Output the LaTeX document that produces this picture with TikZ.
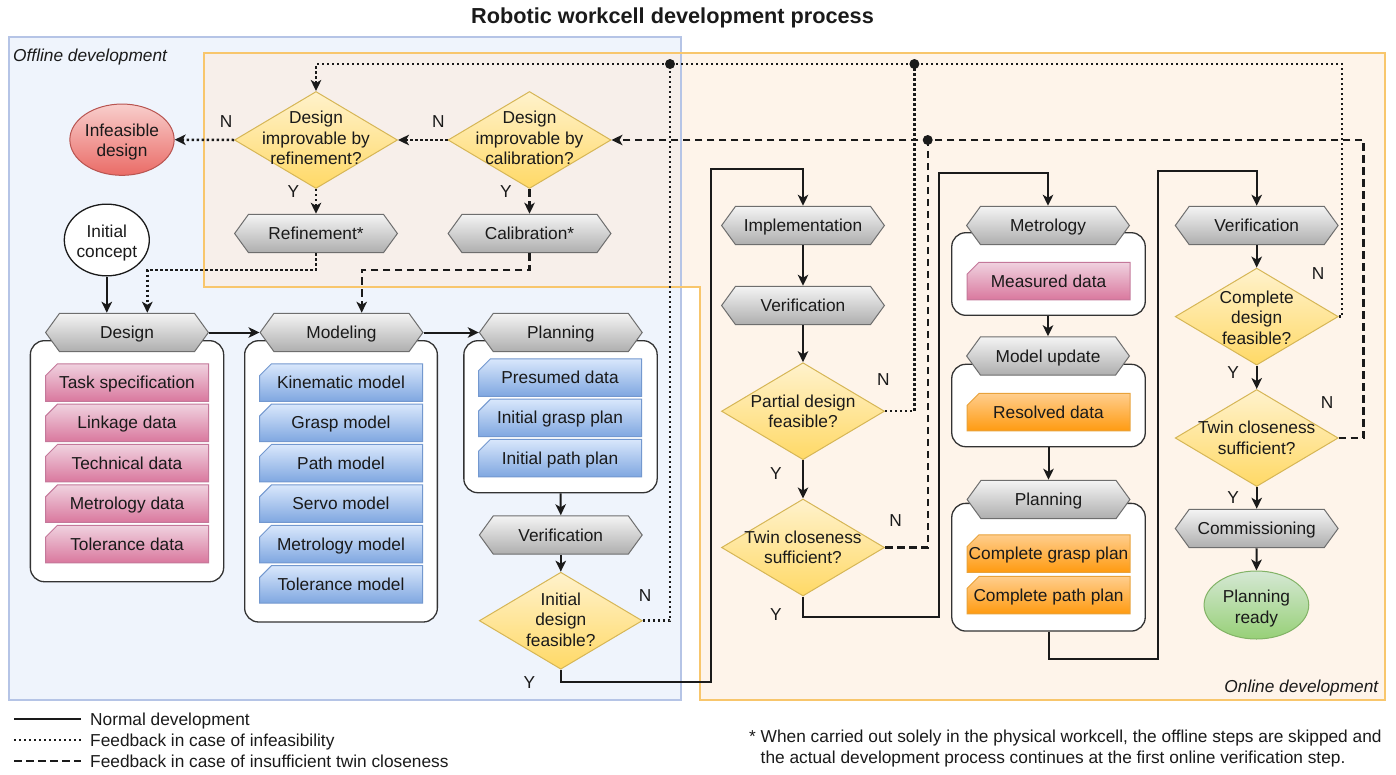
\documentclass[tikz,border=0pt]{standalone}
\usepackage{fontspec}
\setmainfont{Liberation Sans}
\usetikzlibrary{shapes.geometric,arrows.meta}

% palette
\definecolor{ink}{HTML}{1A1A1A}
\definecolor{offfill}{HTML}{EFF4FC}
\definecolor{offedge}{HTML}{B5C4E6}
\definecolor{onfill}{HTML}{FEF4EA}
\definecolor{onedge}{HTML}{F8C66C}
\definecolor{bothfill}{HTML}{F7EFEA}
\definecolor{hexT}{HTML}{F5F5F5}
\definecolor{hexB}{HTML}{ADADAD}
\definecolor{hexD}{HTML}{6E6E6E}
\definecolor{decT}{HTML}{FFF2CC}
\definecolor{decB}{HTML}{FFD966}
\definecolor{decD}{HTML}{D6B656}
\definecolor{pinkT}{HTML}{F0D3E0}
\definecolor{pinkB}{HTML}{D9779D}
\definecolor{pinkD}{HTML}{C4789A}
\definecolor{blueT}{HTML}{DAE8FC}
\definecolor{blueB}{HTML}{7EA6E0}
\definecolor{blueD}{HTML}{7398CF}
\definecolor{oraT}{HTML}{FFCE8E}
\definecolor{oraB}{HTML}{FF9A0F}
\definecolor{oraD}{HTML}{E8A23A}
\definecolor{redT}{HTML}{F8CECC}
\definecolor{redB}{HTML}{EA6B66}
\definecolor{redD}{HTML}{B85450}
\definecolor{grnT}{HTML}{D5E8D4}
\definecolor{grnB}{HTML}{97D077}
\definecolor{grnD}{HTML}{82B366}
\definecolor{grpD}{HTML}{333333}

% hexagonal process outline, drawn inside the node's box
\newcommand{\hexpath}{%
  \path[top color=hexT, bottom color=hexB, draw=hexD, line width=1pt]
    ([xshift=0.6pt]path picture bounding box.west)
    -- ([shift={(14.5pt,-0.6pt)}]path picture bounding box.north west)
    -- ([shift={(-14.5pt,-0.6pt)}]path picture bounding box.north east)
    -- ([xshift=-0.6pt]path picture bounding box.east)
    -- ([shift={(-14.5pt,0.6pt)}]path picture bounding box.south east)
    -- ([shift={(14.5pt,0.6pt)}]path picture bounding box.south west)
    -- cycle;}

% data card with a cut top-left corner
\newcommand{\cardpath}[3]{%
  \path[top color=#1, bottom color=#2, draw=#3, line width=1pt]
    ([shift={(0.5pt,0.5pt)}]path picture bounding box.south west)
    -- ([shift={(0.5pt,-12.5pt)}]path picture bounding box.north west)
    -- ([shift={(12.5pt,-0.5pt)}]path picture bounding box.north west)
    -- ([shift={(-0.5pt,-0.5pt)}]path picture bounding box.north east)
    -- ([shift={(-0.5pt,0.5pt)}]path picture bounding box.south east)
    -- cycle;}

\begin{document}
\begin{tikzpicture}[x=1pt,y=-1pt,
  font=\fontsize{17.3}{20.5}\selectfont, text=ink,
  oneline/.style={text height=15.6pt, text depth=3.6pt},
  stepbox/.style={rectangle, minimum width=164pt, minimum height=39.5pt,
    inner sep=0pt, outer sep=0pt, oneline, path picture={\hexpath}},
  cardbase/.style={rectangle, minimum width=164pt, minimum height=38.5pt,
    inner sep=0pt, outer sep=0pt, oneline},
  pinkcard/.style={cardbase, path picture={\cardpath{pinkT}{pinkB}{pinkD}}},
  bluecard/.style={cardbase, path picture={\cardpath{blueT}{blueB}{blueD}}},
  oracard/.style={cardbase, path picture={\cardpath{oraT}{oraB}{oraD}}},
  grp/.style={rectangle, rounded corners=14pt, draw=grpD, fill=white,
    line width=1.3pt, inner sep=0pt},
  decision/.style={diamond, minimum width=163pt, minimum height=97pt,
    inner sep=0pt, top color=decT, bottom color=decB, draw=decD, line width=1pt},
  dtext/.style={align=center, inner sep=0pt},
  terminal/.style={ellipse, inner sep=0pt, line width=1pt},
  yn/.style={inner sep=0pt, oneline},
  solidln/.style={draw=ink, line width=2pt},
  dotln/.style={draw=ink, line width=2.5pt, dash pattern=on 2.4pt off 2.6pt},
  dashln/.style={draw=ink, line width=2.1pt, dash pattern=on 7.5pt off 4.5pt},
  arr/.style={-{Stealth[length=11pt,width=10.5pt,inset=3pt]}},
  joint/.style={circle, fill=ink, inner sep=0pt, minimum size=10pt},
  legendtxt/.style={anchor=west, inner sep=0pt, oneline}]

\useasboundingbox (0,0) rectangle (1396,774);

% ---------- development regions ----------
\path[fill=offfill] (8.5,37) rectangle (681,700);
\path[fill=onfill] (681,53) -- (1385,53) -- (1385,700) -- (700,700) -- (700,287) -- (681,287) -- cycle;
\path[fill=bothfill] (204,53) rectangle (681,287);
\draw[offedge, line width=2pt] (8.5,37) rectangle (681,700);
\draw[onedge, line width=2pt] (204,53) -- (1385,53) -- (1385,700) -- (700,700) -- (700,287) -- (204,287) -- cycle;

\node[font=\fontsize{21.7}{26}\selectfont\bfseries, inner sep=0pt] (title) at (672.5,18) {Robotic workcell development process};
\node[anchor=west, font=\fontsize{17.3}{20.5}\selectfont\itshape, inner sep=0pt, oneline] (offlbl) at (13,55.7) {Offline development};
\node[anchor=east, font=\fontsize{17.3}{20.5}\selectfont\itshape, inner sep=0pt, oneline] (onlbl) at (1378.5,686) {Online development};

% ---------- group containers ----------
\node[grp, minimum width=193.3pt, minimum height=241pt] (dgrp) at (127,461.2) {};
\node[grp, minimum width=192.7pt, minimum height=281.3pt] (mgrp) at (341,481.35) {};
\node[grp, minimum width=193.3pt, minimum height=152pt] (pgrp) at (560.5,416.7) {};
\node[grp, minimum width=193.5pt, minimum height=82.6pt] (metgrp) at (1048.5,274) {};
\node[grp, minimum width=193.5pt, minimum height=82.4pt] (updgrp) at (1048.5,405.5) {};
\node[grp, minimum width=193.5pt, minimum height=127.7pt] (p2grp) at (1048.5,567.2) {};

% ---------- data cards ----------
\node[pinkcard] (task) at (127,382.5) {Task specification};
\node[pinkcard] (link) at (127,422.9) {Linkage data};
\node[pinkcard] (tech) at (127,463.2) {Technical data};
\node[pinkcard] (metd) at (127,503.6) {Metrology data};
\node[pinkcard] (told) at (127,544) {Tolerance data};

\node[bluecard] (kin) at (341,382.5) {Kinematic model};
\node[bluecard] (grasp) at (341,422.9) {Grasp model};
\node[bluecard] (path) at (341,463.2) {Path model};
\node[bluecard] (servo) at (341,503.6) {Servo model};
\node[bluecard] (metm) at (341,544) {Metrology model};
\node[bluecard] (tolm) at (341,584.4) {Tolerance model};

\node[bluecard] (presumed) at (560,377.5) {Presumed data};
\node[bluecard] (igrasp) at (560,417.9) {Initial grasp plan};
\node[bluecard] (ipath) at (560,458) {Initial path plan};

\node[pinkcard] (measured) at (1048.5,281) {Measured data};
\node[oracard] (resolved) at (1048.5,412.2) {Resolved data};
\node[oracard] (cgrasp) at (1048.5,553.5) {Complete grasp plan};
\node[oracard] (cpath) at (1048.5,595.2) {Complete path plan};

% ---------- process steps ----------
\node[stepbox] (refine) at (316,233.5) {Refinement*};
\node[stepbox] (calibr) at (529.5,233.5) {Calibration*};
\node[stepbox] (design) at (127,332.5) {Design};
\node[stepbox] (modeling) at (341.5,332.5) {Modeling};
\node[stepbox] (planning) at (560.8,332.5) {Planning};
\node[stepbox] (verif1) at (560.8,535) {Verification};
\node[stepbox] (impl) at (803,225.5) {Implementation};
\node[stepbox] (verif2) at (803,305.5) {Verification};
\node[stepbox] (metro) at (1048,225.5) {Metrology};
\node[stepbox] (mupd) at (1048,356) {Model update};
\node[stepbox] (plan2) at (1048.5,499.5) {Planning};
\node[stepbox] (verif3) at (1256.7,225.5) {Verification};
\node[stepbox] (commiss) at (1256.7,528.5) {Commissioning};

% ---------- decisions ----------
\node[decision] (refdec) at (316,140) {};
\node[dtext, yshift=2pt] (refdecT) at (refdec) {Design\\improvable by\\refinement?};
\node[decision] (caldec) at (529.5,140) {};
\node[dtext, yshift=2pt] (caldecT) at (caldec) {Design\\improvable by\\calibration?};
\node[decision] (initdes) at (560.8,620.7) {};
\node[dtext, yshift=1pt] (initdesT) at (initdes) {Initial\\design\\feasible?};
\node[decision] (partial) at (803,411.2) {};
\node[dtext] (partialT) at (partial) {Partial design\\feasible?};
\node[decision] (twin1) at (803,547.5) {};
\node[dtext] (twin1T) at (twin1) {Twin closeness\\sufficient?};
\node[decision] (complete) at (1256.7,316.6) {};
\node[dtext, yshift=-1pt] (completeT) at (complete) {Complete\\design\\feasible?};
\node[decision] (twin2) at (1256.7,438) {};
\node[dtext] (twin2T) at (twin2) {Twin closeness\\sufficient?};

% ---------- terminals ----------
\node[terminal, minimum width=104.3pt, minimum height=71.3pt, top color=redT, bottom color=redB, draw=redD] (infeas) at (122,139.7) {};
\node[dtext, yshift=-2.5pt] (infeasT) at (infeas) {Infeasible\\design};
\node[terminal, minimum width=85pt, minimum height=71.7pt, fill=white, draw=ink, line width=1.3pt] (concept) at (106.8,240) {};
\node[dtext, yshift=-3pt] (conceptT) at (concept) {Initial\\concept};
\node[terminal, minimum width=104.7pt, minimum height=68pt, top color=grnT, bottom color=grnB, draw=grnD] (ready) at (1256.4,605) {};
\node[dtext, yshift=-3.5pt] (readyT) at (ready) {Planning\\ready};

% ---------- bend points ----------
\coordinate (c1) at (711,681.7);
\coordinate (c2) at (711,169);
\coordinate (c3) at (938.5,616.7);
\coordinate (c4) at (938.5,172.7);
\coordinate (c5) at (1157.5,659);
\coordinate (c6) at (1157.5,170.7);
\coordinate (r1) at (147.3,270);
\coordinate (r2) at (361.7,270);
\coordinate (j1) at (670,64);
\coordinate (j2) at (914.4,64);
\coordinate (k1) at (1342,64);
\coordinate (j3) at (927.7,140);
\coordinate (k2) at (1363.5,140);

% ---------- normal development ----------
\draw[solidln,arr] (concept.south) -- (concept.south |- design.north);
\draw[solidln,arr] (design.east) -- (modeling.west);
\draw[solidln,arr] (modeling.east) -- (planning.west);
\draw[solidln,arr] (pgrp.south) -- (verif1.north);
\draw[solidln,arr] (verif1.south) -- (initdes.north);
\draw[solidln,arr] (initdes.south) |- (c1) -- (c2) -| (impl.north);
\draw[solidln,arr] (impl.south) -- (verif2.north);
\draw[solidln,arr] (verif2.south) -- (partial.north);
\draw[solidln,arr] (partial.south) -- (twin1.north);
\draw[solidln,arr] (twin1.south) |- (c3) -- (c4) -| (metro.north);
\draw[solidln,arr] (metgrp.south -| mupd.north) -- (mupd.north);
\draw[solidln,arr] (updgrp.south -| plan2.north) -- (plan2.north);
\draw[solidln,arr] (p2grp.south) |- (c5) -- (c6) -| (verif3.north);
\draw[solidln,arr] (verif3.south) -- (complete.north);
\draw[solidln,arr] (complete.south) -- (twin2.north);
\draw[solidln,arr] (twin2.south) -- (commiss.north);
\draw[solidln,arr] (commiss.south) -- (ready.north);

% ---------- feedback: infeasibility ----------
\draw[dotln,arr] (refdec.west) -- (infeas.east);
\draw[dotln,arr] (caldec.west) -- (refdec.east);
\draw[dotln,arr] (refdec.south) -- (refine.north);
\draw[dotln,arr] (refine.south) |- (r1) -- (r1 |- design.north);
\draw[dotln,arr] (initdes.east) -| (j1) -| (refdec.north);
\draw[dotln] (partial.east) -| (j2);
\draw[dotln] (complete.east) -| (k1) -- (j2) -- (j1);

% ---------- feedback: twin closeness ----------
\draw[dashln,arr] (caldec.south) -- (calibr.north);
\draw[dashln,arr] (calibr.south) |- (r2) -- (r2 |- modeling.north);
\draw[dashln] (twin1.east) -| (j3);
\draw[dashln,arr] (twin2.east) -| (k2) -- (j3) -- (caldec.east);

\node[joint] (dot1) at (j1) {};
\node[joint] (dot2) at (j2) {};
\node[joint] (dot3) at (j3) {};

% ---------- branch labels ----------
\node[yn] (nRef) at (226,121.7) {N};
\node[yn] (nCal) at (438.3,121.3) {N};
\node[yn] (yRef) at (293.3,191.7) {Y};
\node[yn] (yCal) at (506,191) {Y};
\node[yn] (nInit) at (645,595) {N};
\node[yn] (yInit) at (529.3,682.7) {Y};
\node[yn] (nPart) at (883.3,379.3) {N};
\node[yn] (yPart) at (776,473) {Y};
\node[yn] (nTw1) at (895.7,520) {N};
\node[yn] (yTw1) at (776,614) {Y};
\node[yn] (nComp) at (1318,273) {N};
\node[yn] (yComp) at (1233,372) {Y};
\node[yn] (nTw2) at (1327,402) {N};
\node[yn] (yTw2) at (1233,497) {Y};

% ---------- legend ----------
\coordinate (la1) at (14,719);  \coordinate (lb1) at (81,719);
\coordinate (la2) at (14,740);  \coordinate (lb2) at (81,740);
\coordinate (la3) at (14,761);  \coordinate (lb3) at (81,761);
\draw[solidln] (la1) -- (lb1);
\draw[dotln] (la2) -- (lb2);
\draw[dashln] (la3) -- (lb3);
\node[legendtxt] (lt1) at (90,719) {Normal development};
\node[legendtxt] (lt2) at (90,740) {Feedback in case of infeasibility};
\node[legendtxt] (lt3) at (90,761) {Feedback in case of insufficient twin closeness};

\node[legendtxt] (fn1) at (749,736) {* When carried out solely in the physical workcell, the offline steps are skipped and};
\node[legendtxt] (fn2) at (760.5,757) {the actual development process continues at the first online verification step.};

\end{tikzpicture}
\end{document}
